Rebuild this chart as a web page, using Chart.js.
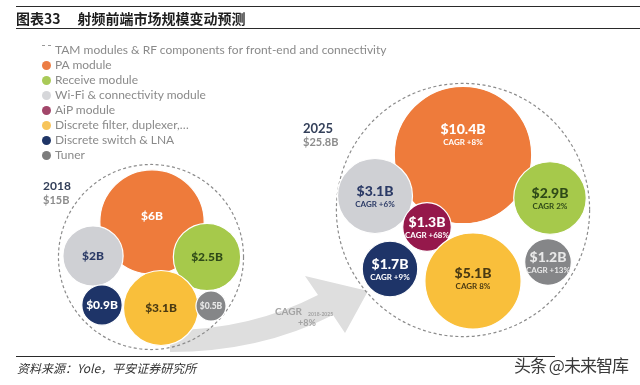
<!DOCTYPE html>
<html>
<head>
<meta charset="utf-8">
<script src="https://cdn.jsdelivr.net/npm/chart.js@4.4.0/dist/chart.umd.min.js"></script>
<style>
  body { margin: 0; background: #fff; }
  #wrap { position: relative; width: 640px; height: 385px; overflow: hidden; font-family: Lato, "Open Sans", sans-serif; }
  #chart { position: absolute; }
  .rule { position: absolute; left: 16px; right: 0; border-top: 1.5px solid #2a2a2a; }
  #title { position: absolute; left: 16px; top: 8px; font: bold 14px "Noto Sans CJK SC", sans-serif; color: #1e1e1e; white-space: nowrap; }
  #title span { margin-left: 17px; }
  #legend { position: absolute; left: 42px; top: 42px; margin: 0; padding: 0; list-style: none; }
  #legend li { height: 15px; line-height: 15px; font-size: 12px; color: #8a8a8a; white-space: nowrap; }
  #legend i { display: inline-block; width: 9px; height: 9px; border-radius: 50%; margin-right: 4px; vertical-align: -1px; }
  #legend i.dash { width: 9px; height: 4px; border-radius: 0; border-top: 1.5px dashed #999; vertical-align: 4px; }
  .year { position: absolute; font-weight: bold; color: #34405a; line-height: 14px; }
  .year small { display: block; font-size: 11px; color: #8c8c8c; font-weight: bold; }
  #source { position: absolute; left: 17px; top: 359px; font: italic 12px "Noto Sans CJK SC", sans-serif; color: #333; }
  #mark { position: absolute; left: 514px; top: 352px; font: 17px "Noto Sans CJK SC", sans-serif; color: #3a3a3a; letter-spacing: -1px;
          text-shadow: 0 0 2px #fff, 0 0 2px #fff; }
</style>
</head>
<body>
<div id="wrap">
  <canvas id="chart"></canvas>
  <div class="rule" style="top:6px"></div>
  <div id="title">图表33<span>射频前端市场规模变动预测</span></div>
  <div class="rule" style="top:28px"></div>
  <ul id="legend"></ul>
  <div class="year" id="y0" style="left:43px; top:179px; font-size:12px"></div>
  <div class="year" id="y1" style="left:303px; top:121px; font-size:13px"></div>
  <div class="rule" style="top:356px; right:85px"></div>
  <div id="source">资料来源：Yole，平安证券研究所</div>
  <div id="mark">头条 @未来智库</div>
</div>
<script>
// data
const years = ["2018", "2025"];
const totals = [15, 25.8];
const categories = [
  "PA module",
  "Receive module",
  "Wi-Fi & connectivity module",
  "AiP module",
  "Discrete filter, duplexer,…",
  "Discrete switch & LNA",
  "Tuner",
];
const value2018 = [6, 2.5, 2, 0, 3.1, 0.9, 0.5];
const value2025 = [10.4, 2.9, 3.1, 1.3, 5.1, 1.7, 1.2];
const cagr2025 = ["+8%", "2%", "+6%", "+68%", "8%", "+9%", "+13%"];
const ringLabel = "TAM modules & RF components for front-end and connectivity";

// styles
const fills = ["#ee7b3b", "#a6c94b", "#cfd0d4", "#95184b", "#f9bf3b", "#1e3468", "#858688"];
const legendFills = ["#ec7d44", "#a9ca58", "#d6d7da", "#a2466a", "#f7c45a", "#1f3566", "#7c7c7c"];
const textColors = ["#ffffff", "#2f4a18", "#2b3a66", "#ffffff", "#4a3a12", "#ffffff", "#e8e8e8"];

// packing layout (chart units = page px) - bubble centres per year
const layout2018 = [[152, 222], [207, 257], [93, 256], null, [161, 308], [102, 305], [211, 306]];
const layout2025 = [[463, 155], [550, 198], [375, 196], [427, 227], [473, 281], [390, 269], [548, 262]];
const ringCentres = [[151, 257], [463, 210]];
const K = 21.3; // radius per sqrt($B), bubble area ~ value
const BORDER = 1.2;

function buildPoints(values, layout) {
  const pts = [];
  values.forEach((v, c) => {
    if (!v) return;
    pts.push({ x: layout[c][0], y: layout[c][1], r: K * Math.sqrt(v), v: v, c: c });
  });
  return pts;
}

const pts2018 = buildPoints(value2018, layout2018);
const pts2025 = buildPoints(value2025, layout2025);

// outer dashed ring = circle round the year's bubbles
function ringFor(centre, pts, total) {
  let R = 0;
  pts.forEach((p) => {
    const d = Math.hypot(p.x - centre[0], p.y - centre[1]) + p.r;
    if (d > R) R = d;
  });
  return { x: centre[0], y: centre[1], r: R, v: total };
}
const rings = [ringFor(ringCentres[0], pts2018, totals[0]), ringFor(ringCentres[1], pts2025, totals[1])];

// bubble charts pad the chart area by the biggest radius, so grow the canvas by that and shift it back
const PAD = Math.ceil(Math.max(...rings.map((r) => r.r)) + BORDER) + 2;
const canvas = document.getElementById("chart");
canvas.width = 640 + PAD * 2;
canvas.height = 385 + PAD * 2;
canvas.style.left = -PAD + "px";
canvas.style.top = -PAD + "px";

// html bits
const legend = document.getElementById("legend");
legend.innerHTML = '<li><i class="dash"></i>' + ringLabel + "</li>" +
  categories.map((c, i) => '<li><i style="background:' + legendFills[i] + '"></i>' + c + "</li>").join("");
years.forEach((y, i) => {
  document.getElementById("y" + i).innerHTML = y + "<small>$" + totals[i] + "B</small>";
});

const dashRing = {
  id: "dashRing",
  beforeDatasetDraw(chart, args) {
    const ds = chart.data.datasets[args.index];
    if (ds.ringDash) chart.ctx.setLineDash(ds.ringDash);
  },
  afterDatasetDraw(chart) {
    chart.ctx.setLineDash([]);
  },
};

const growthArrow = {
  id: "growthArrow",
  beforeDatasetsDraw(chart) {
    const ctx = chart.ctx;
    const a = chart.chartArea;
    ctx.save();
    ctx.translate(a.left, a.top);
    ctx.fillStyle = "#dedede";
    ctx.beginPath();
    ctx.moveTo(170, 330);
    ctx.quadraticCurveTo(250, 330, 318, 295);
    ctx.lineTo(305, 276);
    ctx.lineTo(368, 291);
    ctx.lineTo(345, 333);
    ctx.lineTo(333, 315);
    ctx.quadraticCurveTo(260, 352, 170, 352);
    ctx.closePath();
    ctx.fill();
    ctx.fillStyle = "#a3a3a3";
    ctx.textBaseline = "middle";
    ctx.font = "bold 10px Lato, sans-serif";
    ctx.fillText("CAGR", 275, 312);
    ctx.font = "bold 5px Lato, sans-serif";
    ctx.fillText(years[0] + "-" + years[1], 308, 314);
    ctx.font = "bold 9px Lato, sans-serif";
    ctx.fillText("+8%", 298, 323);
    ctx.restore();
  },
};

const bubbleText = {
  id: "bubbleText",
  afterDatasetsDraw(chart) {
    const ctx = chart.ctx;
    ctx.save();
    ctx.textAlign = "center";
    ctx.textBaseline = "middle";
    chart.data.datasets.forEach((ds, di) => {
      if (!ds.valueSize) return;
      const meta = chart.getDatasetMeta(di);
      meta.data.forEach((el, i) => {
        const p = ds.data[i];
        const lift = Math.max(0, p.r - 45) * 0.85;
        const size = p.r < 18 ? 8.5 : ds.valueSize;
        ctx.fillStyle = textColors[p.c];
        ctx.font = "900 " + size + "px Lato, sans-serif";
        if (ds.cagr) {
          ctx.fillText("$" + p.v + "B", el.x, el.y - 5 - lift);
          ctx.font = "bold 8px Lato, sans-serif";
          ctx.fillText("CAGR " + ds.cagr[p.c], el.x, el.y + 8 - lift);
        } else {
          ctx.fillText("$" + p.v + "B", el.x, el.y - lift);
        }
      });
    });
    ctx.restore();
  },
};

const chart = new Chart(canvas, {
  type: "bubble",
  data: {
    datasets: [
      {
        label: years[0],
        data: pts2018,
        backgroundColor: pts2018.map((p) => fills[p.c]),
        borderColor: "#ffffff",
        borderWidth: BORDER,
        valueSize: 12,
        clip: false,
        order: 1,
      },
      {
        label: years[1],
        data: pts2025,
        backgroundColor: pts2025.map((p) => fills[p.c]),
        borderColor: "#ffffff",
        borderWidth: BORDER,
        valueSize: 14,
        cagr: cagr2025,
        clip: false,
        order: 1,
      },
      {
        label: "TAM",
        data: rings,
        backgroundColor: "rgba(0,0,0,0)",
        borderColor: "#8c8c8c",
        borderWidth: BORDER,
        ringDash: [3, 2.5],
        clip: false,
        order: 2,
      },
    ],
  },
  options: {
    responsive: false,
    animation: false,
    layout: { padding: PAD },
    scales: {
      x: { type: "linear", min: 0, max: 640, display: false },
      y: { type: "linear", min: 0, max: 385, reverse: true, display: false },
    },
    plugins: {
      legend: { display: false },
      tooltip: { enabled: false },
    },
    events: [],
  },
  plugins: [dashRing, growthArrow, bubbleText],
});
console.log("chartArea:", chart.chartArea);
</script>
</body>
</html>
